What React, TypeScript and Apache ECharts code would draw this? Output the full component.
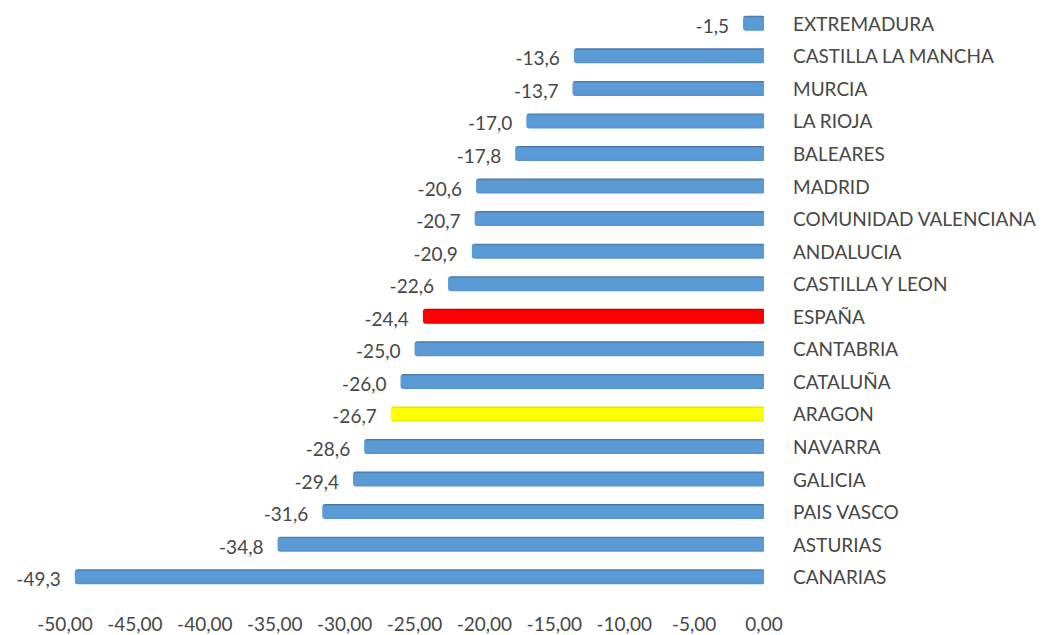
import React, { useEffect, useRef } from "react";
import * as echarts from "echarts";

const categories = [
  "EXTREMADURA",
  "CASTILLA LA MANCHA",
  "MURCIA",
  "LA RIOJA",
  "BALEARES",
  "MADRID",
  "COMUNIDAD VALENCIANA",
  "ANDALUCIA",
  "CASTILLA Y LEON",
  "ESPAÑA",
  "CANTABRIA",
  "CATALUÑA",
  "ARAGON",
  "NAVARRA",
  "GALICIA",
  "PAIS VASCO",
  "ASTURIAS",
  "CANARIAS",
];

const values = [
  -1.5, -13.6, -13.7, -17.0, -17.8, -20.6, -20.7, -20.9, -22.6, -24.4, -25.0,
  -26.0, -26.7, -28.6, -29.4, -31.6, -34.8, -49.3,
];

const highlightRed = "ESPAÑA";
const highlightYellow = "ARAGON";

const grad = (top: string, mid: string, bottom: string) =>
  new echarts.graphic.LinearGradient(0, 0, 0, 1, [
    { offset: 0, color: top },
    { offset: 0.15, color: mid },
    { offset: 0.85, color: mid },
    { offset: 1, color: bottom },
  ]);

export default function App() {
  const ref = useRef<HTMLDivElement>(null);
  useEffect(() => {
    if (!ref.current) return;
    const chart = echarts.init(ref.current, null, { renderer: "svg" });
    const font = "Lato, 'Open Sans', sans-serif";
    const data = values.map((v, i) => {
      const c = categories[i];
      let color;
      if (c === highlightRed) color = grad("#c00000", "#ff0000", "#d00000");
      else if (c === highlightYellow) color = grad("#d8d800", "#ffff00", "#e0e000");
      else color = grad("#41709f", "#5b9bd5", "#5291cb");
      return { value: v, itemStyle: { color } };
    });
    chart.setOption({
      animation: false,
      grid: { left: 65, right: 278, top: 7, bottom: 42, containLabel: false },
      xAxis: {
        type: "value",
        min: -50,
        max: 0,
        interval: 5,
        axisLine: { show: false },
        axisTick: { show: false },
        splitLine: { show: false },
        axisLabel: {
          color: "#474747",
          fontSize: 19,
          fontFamily: font,
          margin: 21,
          formatter: (v: number) => v.toFixed(2).replace(".", ","),
        },
      },
      yAxis: {
        type: "category",
        data: categories,
        inverse: true,
        position: "right",
        axisLine: { show: false },
        axisTick: { show: false },
        axisLabel: {
          color: "#474747",
          fontSize: 19,
          fontFamily: font,
          margin: 29,
          align: "left",
        },
      },
      series: [
        {
          type: "bar",
          data,
          barWidth: 15,
          itemStyle: { borderRadius: [3, 1, 1, 3] },
          label: {
            show: true,
            position: "left",
            distance: 14,
            offset: [0, 2],
            color: "#474747",
            fontSize: 19,
            fontFamily: font,
            formatter: (p: any) => p.value.toFixed(1).replace(".", ","),
          },
        },
      ],
    });
    return () => chart.dispose();
  }, []);
  return (
    <div
      ref={ref}
      style={{ position: "absolute", left: 0, top: 0, width: 1042, height: 635 }}
    />
  );
}
